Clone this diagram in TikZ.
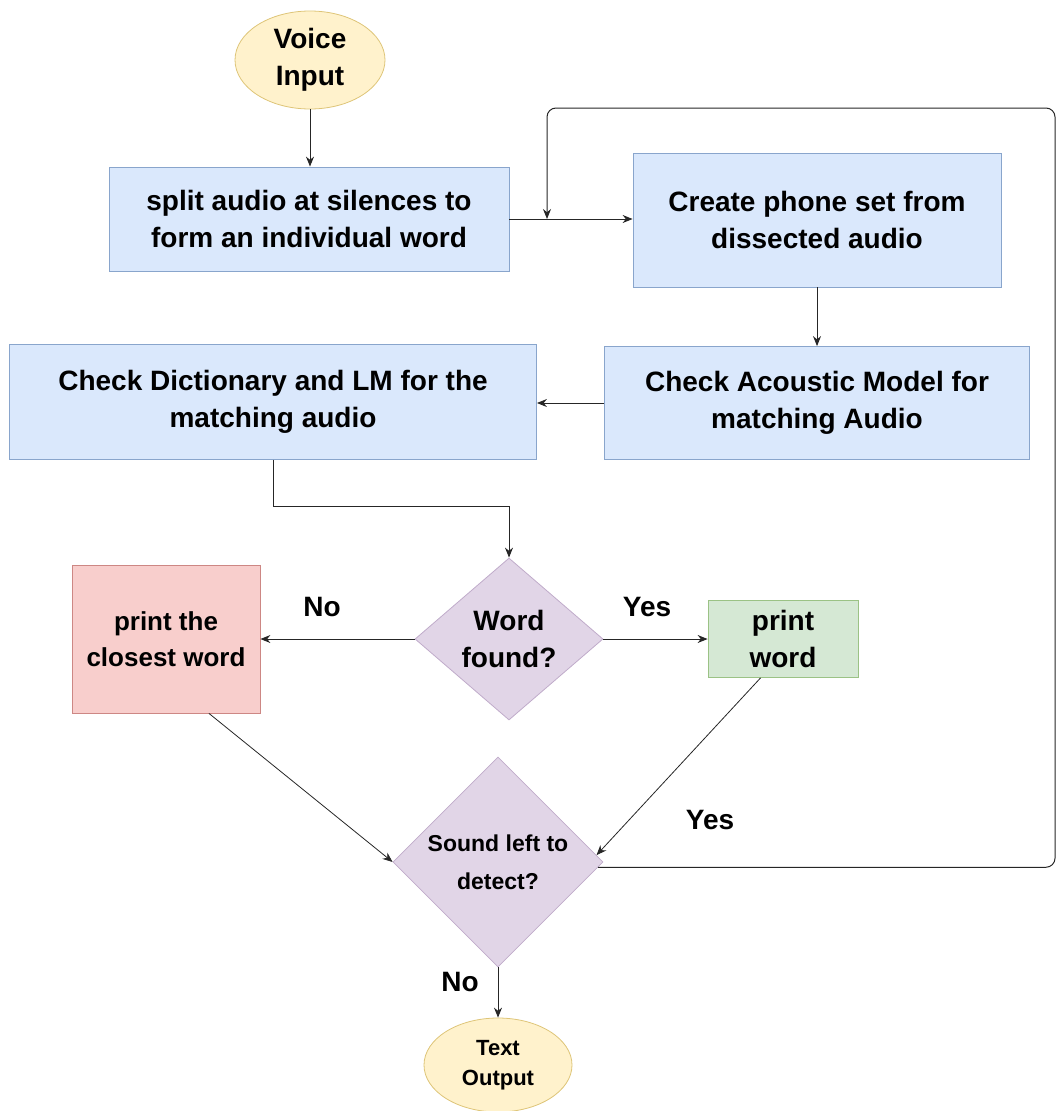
\documentclass[tikz,border=0pt]{standalone}
\usepackage{fontspec}
\setmainfont{Liberation Sans}
\usetikzlibrary{shapes.geometric,arrows.meta,calc}
\definecolor{bfill}{HTML}{DAE8FC}\definecolor{bline}{HTML}{6C8EBF}
\definecolor{yfill}{HTML}{FFF2CC}\definecolor{yline}{HTML}{D6B656}
\definecolor{rfill}{HTML}{F8CECC}\definecolor{rline}{HTML}{B85450}
\definecolor{gfill}{HTML}{D5E8D4}\definecolor{gline}{HTML}{82B366}
\definecolor{pfill}{HTML}{E1D5E7}\definecolor{pline}{HTML}{9673A6}
\tikzset{
  big/.style={font=\bfseries\fontsize{28}{37}\selectfont},
  bluebox/.style={draw=bline!80, fill=bfill, line width=0.8pt, rectangle, align=center, inner sep=0pt, big},
  term/.style={draw=yline!80, fill=yfill, line width=0.8pt, ellipse, align=center, inner sep=0pt},
  redbox/.style={draw=rline!70, fill=rfill, line width=0.8pt, rectangle, align=center, inner sep=0pt, font=\bfseries\fontsize{26}{36}\selectfont},
  greenbox/.style={draw=gline!80, fill=gfill, line width=0.8pt, rectangle, align=center, inner sep=0pt, big},
  dec/.style={draw=pline!60, fill=pfill, line width=0.8pt, diamond, aspect=1, align=center, inner sep=0pt},
  conn/.style={line width=1pt, draw=black!85, -{Stealth[length=10pt,width=8pt]}},
  lbl/.style={font=\bfseries\fontsize{28}{34}\selectfont}
}
\begin{document}
\begin{tikzpicture}[x=1pt,y=-1pt]
\useasboundingbox (0,0) rectangle (1057,1111);
\node[term, minimum width=150, minimum height=98, big] (vin) at (310,60) {Voice\\Input};
\node[bluebox, minimum width=400, minimum height=104] (b1) at (309,219) {split audio at silences to\\form an individual word};
\node[bluebox, minimum width=368, minimum height=134] (b2) at (817,220) {Create phone set from\\dissected audio};
\node[bluebox, minimum width=425, minimum height=113] (b3) at (817,403) {Check Acoustic Model for\\matching Audio};
\node[bluebox, minimum width=527, minimum height=115] (b4) at (273,402) {Check Dictionary and LM for the\\matching audio};
\node[dec, minimum width=188, minimum height=162, big] (d1) at (509,639) {Word\\found?};
\node[redbox, minimum width=188, minimum height=148] (red) at (166,639) {print the\\closest word};
\node[greenbox, minimum width=150, minimum height=77] (green) at (783,639) {print\\word};
\node[dec, minimum width=210, minimum height=210, font=\bfseries\fontsize{23}{38}\selectfont] (d2) at (498,862) {Sound left to\\detect?};
\node[term, minimum width=148, minimum height=94, font=\bfseries\fontsize{22}{30}\selectfont] (tout) at (498,1065) {Text\\Output};

\coordinate (jn) at (547,219);
\coordinate (lt) at (1055,108);
\coordinate (lm) at (547,108);

\draw[conn] (vin.south) -- (vin.south |- b1.north);
\draw[conn] (b1.east) -- (b1.east -| b2.west);
\draw[conn, rounded corners=9] (d2.-3) -- (d2.-3 -| lt) -- (lt) -- (lm) -- (jn);
\draw[conn] (b2.south) -- (b3.north);
\draw[conn] (b3.west) -- (b3.west -| b4.east);
\draw[conn] (b4.south) -- ++(0,47) -| (d1.north);
\draw[conn] (d1.west) -- (red.east);
\draw[conn] (d1.east) -- (green.west);
\draw[conn, line width=0.8pt] (red.300) -- (d2.west);
\draw[conn, line width=0.8pt] (green.240) -- (d2.4);
\draw[conn] (d2.south) -- (tout.north);

\node[lbl] (lno1) at (322,607) {No};
\node[lbl] (lyes1) at (647,607) {Yes};
\node[lbl] (lyes2) at (710,820) {Yes};
\node[lbl] (lno2) at (460,982) {No};
\end{tikzpicture}
\end{document}
